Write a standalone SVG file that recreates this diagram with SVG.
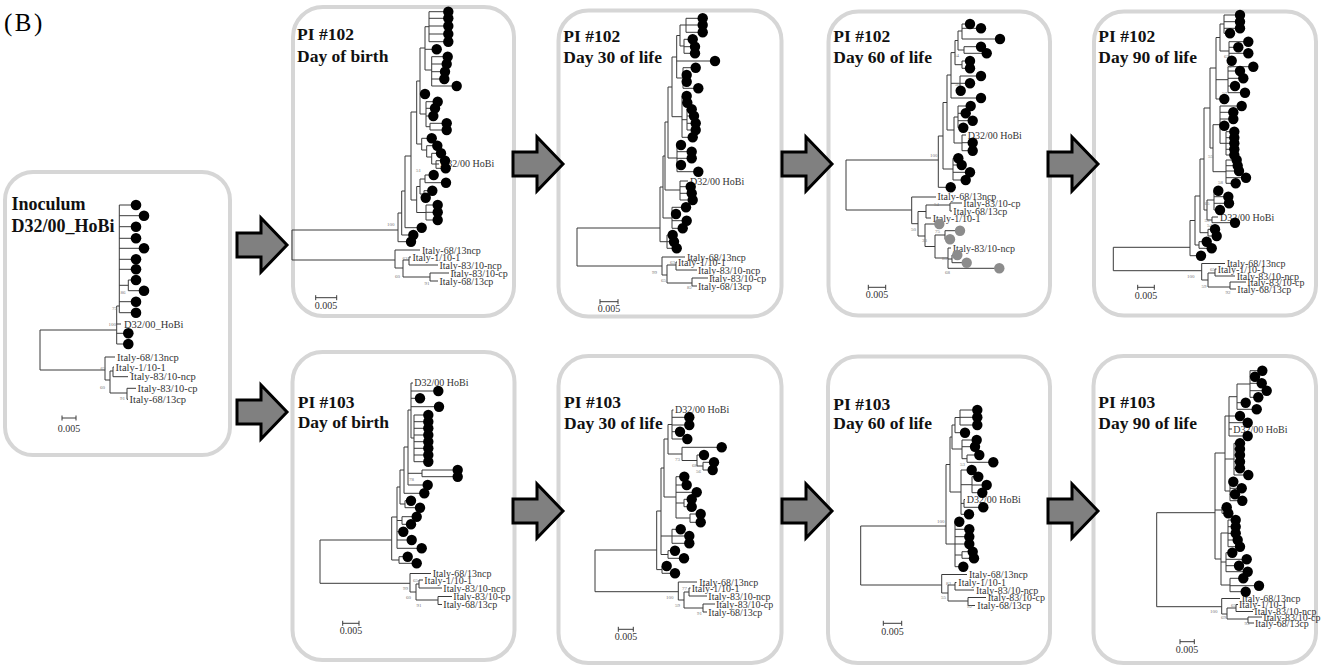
<svg xmlns="http://www.w3.org/2000/svg" xmlns:xlink="http://www.w3.org/1999/xlink" width="1322" height="668" viewBox="0 0 1322 668">
<style>
.panel{fill:#fff;stroke:#d6d6d6;stroke-width:4}
.arrow{fill:#808080;stroke:#000;stroke-width:3;stroke-linejoin:miter}
.tree{fill:none;stroke:#3a3a3a;stroke-width:1}
.d{fill:#000}
.g{fill:#8c8c8c}
.t{font-family:"Liberation Serif",serif;font-weight:bold;font-size:17.5px;fill:#111}
.l{font-family:"Liberation Serif",serif;font-size:10px;fill:#333}
.li{font-family:"Liberation Serif",serif;font-size:10.5px;fill:#333}
.s{font-family:"Liberation Serif",serif;font-size:5px;fill:#777}
.m{text-anchor:middle}
</style>
<defs>
<path id="arr" d="M-50,-12H-26V-27L0,0L-26,27V12H-50Z"/>
</defs>
<rect width="1322" height="668" fill="#fff"/>
<text x="4" y="31" font-family="Liberation Serif, serif" font-size="25" letter-spacing="2.5" fill="#000">(B)</text>

<g id="inoculum">
<rect class="panel" x="5" y="172" width="225" height="283" rx="28"/>
<text class="t" x="11.5" y="210" style="font-size:18px">Inoculum</text>
<text class="t" x="11.5" y="232" style="font-size:18px">D32/00_HoBi</text>
<path class="tree" d="M119.3,205V312.7M119.3,205H136M119.3,215.7H144M119.3,226.7H136M119.3,238.3H136M119.3,248.3H144M119.3,259.3H136M119.3,269.3H136M119.3,285.3H128.3M128.3,280V290.7M128.3,280H136M128.3,290.7H144M119.3,301.7H136M119.3,312.7H136M116.7,306V344M116.7,306H119.3M116.7,324H121M116.7,333.3H128.3M116.7,344H128.3M40,330H116.7M40,330V370M40,370H105M105,357V380M105,357H115M105,380H110M110,371V393M110,371H113M113,367V376.7M113,367H114M113,376.7H128M110,393H127M127,388.3V399.3M127,388.3H136M127,399.3H128M62,418H76M62,415.5V420.5M76,415.5V420.5"/>
<text class="li" x="124" y="327.5">D32/00_HoBi</text>
<text class="li" x="117" y="360.5">Italy-68/13ncp</text>
<text class="li" x="115.5" y="370.5">Italy-1/10-1</text>
<text class="li" x="130.5" y="380">Italy-83/10-ncp</text>
<text class="li" x="137.5" y="391.5">Italy-83/10-cp</text>
<text class="li" x="129.5" y="402.5">Italy-68/13cp</text>
<text class="s" x="120.5" y="294">86</text>
<text class="s" x="112" y="310">75</text>
<text class="s" x="108.5" y="325.5">100</text>
<text class="s" x="100.5" y="369.5">65</text>
<text class="s" x="100" y="388.5">60</text>
<text class="s" x="120" y="400">91</text>
<text class="l m" x="69" y="432">0.005</text>
<circle class="d" cx="136" cy="205" r="5.3"/><circle class="d" cx="144" cy="215.7" r="5.3"/><circle class="d" cx="136" cy="226.7" r="5.3"/><circle class="d" cx="136" cy="238.3" r="5.3"/><circle class="d" cx="144" cy="248.3" r="5.3"/><circle class="d" cx="136" cy="259.3" r="5.3"/><circle class="d" cx="136" cy="269.3" r="5.3"/><circle class="d" cx="136" cy="280" r="5.3"/><circle class="d" cx="144" cy="290.7" r="5.3"/><circle class="d" cx="136" cy="301.7" r="5.3"/><circle class="d" cx="136" cy="312.7" r="5.3"/><circle class="d" cx="128.3" cy="333.3" r="5.3"/><circle class="d" cx="128.3" cy="344" r="5.3"/>
</g>

<g id="pi102-birth">
<rect class="panel" x="293" y="7" width="221" height="309" rx="30"/>
<text class="t" x="297" y="40">PI #102</text>
<text class="t" x="297" y="62">Day of birth</text>
<path class="tree" d="M292,230H398M292,230V260M292,260H395M398,213V241.7M398,241.7H411M398,213H401.7M401.7,191V235M401.7,235H413.3M401.7,191H405M405,156V227.7M405,227.7H421.7M405,156H411M411,112V200M411,200H416.7M411,112H416.7M416.7,81V144M416.7,144H421.7M416.7,81H420M420,48V114M420,48H425M420,94H425M420,114H426M425,26.7V70M425,26.7H429M425,49.3H436.7M425,70H431.7M429,11.7V41.7M429,11.7H448.3M429,18.3H448.3M429,26H448.3M429,34H448.3M429,41.7H448.3M431.7,56.7V86M431.7,56.7H447.7M431.7,64H446.7M431.7,71.7H445M431.7,79H444.3M431.7,86H456.7M426,101.7V126.7M426,101.7H437.7M426,108.3H435M426,116H433.3M426,126.7H430M430,123.3V130M430,123.3H446.7M430,130H446.7M421.7,138.3V150M421.7,138.3H431.7M421.7,150H426.7M426.7,145.7V157M426.7,145.7H437.3M426.7,157H431.7M431.7,153.3V164M431.7,153.3H441M431.7,164H436M436,160.7V168.3M436,160.7H445M436,164H439M436,168.3H445.7M416.7,186.5V212.5M416.7,186.5H420M420,179V194M420,179H425M425,175V182.7M425,175H433.7M425,182.7H446M420,194H424M424,190.7V197.7M424,190.7H432.3M424,197.7H425.7M416.7,212.5H426M426,205V220M426,205H437.7M426,212.3H437.7M426,220H437.7M395,250V268M395,250H420M395,268H403M403,260V277M403,260H409M409,257V265M409,257H411M409,265H438M403,277H430M430,273V281M430,273H449M430,281H438M315.7,297.7H336.7M315.7,295.2V300.2M336.7,295.2V300.2"/>
<text class="l" x="440" y="167">D32/00 HoBi</text>
<text class="l" x="422" y="253.5">Italy-68/13ncp</text>
<text class="l" x="412.5" y="260.5">Italy-1/10-1</text>
<text class="l" x="439.5" y="268.5">Italy-83/10-ncp</text>
<text class="l" x="450.5" y="276.5">Italy-83/10-cp</text>
<text class="l" x="439.5" y="284.5">Italy-68/13cp</text>
<text class="s" x="387" y="226">100</text>
<text class="s" x="416" y="172">51</text>
<text class="s" x="402.5" y="259.5">63</text>
<text class="s" x="395" y="278">60</text>
<text class="s" x="424.5" y="284.5">91</text>
<text class="l m" x="326" y="308.5">0.005</text>
<circle class="d" cx="448.3" cy="11.7" r="5.2"/><circle class="d" cx="448.3" cy="18.3" r="5.2"/><circle class="d" cx="448.3" cy="26" r="5.2"/><circle class="d" cx="448.3" cy="34" r="5.2"/><circle class="d" cx="448.3" cy="41.7" r="5.2"/><circle class="d" cx="436.7" cy="49.3" r="5.2"/><circle class="d" cx="447.7" cy="56.7" r="5.2"/><circle class="d" cx="446.7" cy="64" r="5.2"/><circle class="d" cx="445" cy="71.7" r="5.2"/><circle class="d" cx="444.3" cy="79" r="5.2"/><circle class="d" cx="456.7" cy="86" r="5.2"/><circle class="d" cx="425" cy="94" r="5.2"/><circle class="d" cx="437.7" cy="101.7" r="5.2"/><circle class="d" cx="435" cy="108.3" r="5.2"/><circle class="d" cx="433.3" cy="116" r="5.2"/><circle class="d" cx="446.7" cy="123.3" r="5.2"/><circle class="d" cx="446.7" cy="130" r="5.2"/><circle class="d" cx="431.7" cy="138.3" r="5.2"/><circle class="d" cx="437.3" cy="145.7" r="5.2"/><circle class="d" cx="441" cy="153.3" r="5.2"/><circle class="d" cx="445" cy="160.7" r="5.2"/><circle class="d" cx="445.7" cy="168.3" r="5.2"/><circle class="d" cx="433.7" cy="175" r="5.2"/><circle class="d" cx="446" cy="182.7" r="5.2"/><circle class="d" cx="432.3" cy="190.7" r="5.2"/><circle class="d" cx="425.7" cy="197.7" r="5.2"/><circle class="d" cx="437.7" cy="205" r="5.2"/><circle class="d" cx="437.7" cy="212.3" r="5.2"/><circle class="d" cx="437.7" cy="220" r="5.2"/><circle class="d" cx="421.7" cy="227.7" r="5.2"/><circle class="d" cx="413.3" cy="235" r="5.2"/><circle class="d" cx="411" cy="241.7" r="5.2"/>
</g>

<g id="pi102-day30">
<rect class="panel" x="558.5" y="10.5" width="223" height="306" rx="30"/>
<text class="t" x="563.3" y="41.5">PI #102</text>
<text class="t" x="563.3" y="62.5">Day 30 of life</text>
<path class="tree" d="M577,228H660M577,228V266M577,266H662M660,187V241.7M660,187H663M660,241.7H667M667,235V248.3M667,235H672.7M667,241.7H674M667,248.3H676.7M663,156V218M663,156H665M663,218H672M672,207.3V228.3M672,207.3H686M672,214H676M672,220.7H686.7M672,228.3H682.7M665,122V190M665,122H668M665,190H680M680,181V200M680,181H688M680,186.7H690.7M680,193.3H691.7M680,200H692.7M668,87V158M668,87H672M668,158H677M677,145V171.7M677,145H681M677,151.7H691.7M677,158.3H691.7M677,165H681M677,171.7H698.3M672,57V116.7M672,57H676.7M672,116.7H682M682,96V137.3M682,96H686.7M682,102.7H687.3M682,137.3H692.7M682,119.7H687M687,109.3V130M687,109.3H691.7M687,116H694M687,123.3H695.7M687,130H695.7M676.7,35.5V78M676.7,35.5H680M676.7,61H715M676.7,78H683M680,25V46M680,25H686M680,46H684M686,18.3V32.3M686,18.3H702.7M686,25H702.7M686,32.3H702.7M684,39.3V53.3M684,39.3H692.7M684,46.7H695M684,53.3H695M683,67.7V88.3M683,67.7H695.7M683,75H686.7M683,81.7H686.7M683,88.3H698.3M662,257V275M662,257H685M662,275H667M667,265V283M667,265H676M676,262V270M676,262H677M676,270H697M667,283H692M692,278V286M692,278H708M692,286H697M600,301.7H618M600,299.2V304.2M618,299.2V304.2"/>
<text class="l" x="690" y="184.5">D32/00 HoBi</text>
<text class="l" x="687" y="260.5">Italy-68/13ncp</text>
<text class="l" x="678" y="265.5">Italy-1/10-1</text>
<text class="l" x="698" y="273.5">Italy-83/10-ncp</text>
<text class="l" x="709" y="281.5">Italy-83/10-cp</text>
<text class="l" x="698" y="289.5">Italy-68/13cp</text>
<text class="s" x="670" y="263.5">63</text>
<text class="s" x="652" y="274">99</text>
<text class="s" x="661" y="282">65</text>
<text class="s" x="687" y="289">82</text>
<text class="l m" x="609" y="312">0.005</text>
<circle class="d" cx="702.7" cy="18.3" r="5.2"/><circle class="d" cx="702.7" cy="25" r="5.2"/><circle class="d" cx="702.7" cy="32.3" r="5.2"/><circle class="d" cx="692.7" cy="39.3" r="5.2"/><circle class="d" cx="695" cy="46.7" r="5.2"/><circle class="d" cx="695" cy="53.3" r="5.2"/><circle class="d" cx="715" cy="61" r="5.2"/><circle class="d" cx="695.7" cy="67.7" r="5.2"/><circle class="d" cx="686.7" cy="75" r="5.2"/><circle class="d" cx="686.7" cy="81.7" r="5.2"/><circle class="d" cx="698.3" cy="88.3" r="5.2"/><circle class="d" cx="686.7" cy="96" r="5.2"/><circle class="d" cx="687.3" cy="102.7" r="5.2"/><circle class="d" cx="691.7" cy="109.3" r="5.2"/><circle class="d" cx="694" cy="116" r="5.2"/><circle class="d" cx="695.7" cy="123.3" r="5.2"/><circle class="d" cx="695.7" cy="130" r="5.2"/><circle class="d" cx="692.7" cy="137.3" r="5.2"/><circle class="d" cx="681" cy="145" r="5.2"/><circle class="d" cx="691.7" cy="151.7" r="5.2"/><circle class="d" cx="691.7" cy="158.3" r="5.2"/><circle class="d" cx="681" cy="165" r="5.2"/><circle class="d" cx="698.3" cy="171.7" r="5.2"/><circle class="d" cx="690.7" cy="186.7" r="5.2"/><circle class="d" cx="691.7" cy="193.3" r="5.2"/><circle class="d" cx="692.7" cy="200" r="5.2"/><circle class="d" cx="686" cy="207.3" r="5.2"/><circle class="d" cx="676" cy="214" r="5.2"/><circle class="d" cx="686.7" cy="220.7" r="5.2"/><circle class="d" cx="682.7" cy="228.3" r="5.2"/><circle class="d" cx="672.7" cy="235" r="5.2"/><circle class="d" cx="674" cy="241.7" r="5.2"/><circle class="d" cx="676.7" cy="248.3" r="5.2"/>
</g>

<g id="pi102-day60">
<rect class="panel" x="828.5" y="11.5" width="221.5" height="304" rx="30"/>
<text class="t" x="833.3" y="41.5">PI #102</text>
<text class="t" x="833.3" y="62.5">Day 60 of life</text>
<path class="tree" d="M846,160H938.3M846,160V210M846,210H911.7M938.3,136V187.3M938.3,136H943M938.3,187.3H950.7M943,102.5V169M943,102.5H947M943,169H953M953,158.3V180M953,158.3H958.3M953,165H961.7M953,172.3H970M953,180H965.7M947,75V130M947,75H951M947,130H954M954,117V143M954,117H958M954,143H962M962,135V150.7M962,135H966M962,142.7H972.7M962,150.7H972.7M958,106V127.7M958,106H970.7M958,113.3H965.7M958,120.7H972.7M958,127.7H963.3M951,52.6V98M951,52.6H955M951,83.3H960M951,98H981M960,76V90.7M960,76H981M960,83.3H970M960,90.7H960.7M955,40.5V64.7M955,40.5H958M955,64.7H962M962,61V68.3M962,61H970M962,68.3H970M958,31V50M958,31H962M958,50H964M962,24V39M962,24H970M962,28.3H981M962,39H1000M964,46.7V53.3M964,46.7H981M964,53.3H986.7M911.7,197V223.7M911.7,197H936M911.7,223.7H918M918,211.5V236M918,211.5H926M918,236H925M926,205V218M926,205H950M926,218H931M950,203V211M950,203H962M950,211H952M925,224V246.5M925,224H939.3M925,246.5H935M935,235V258M935,235H945M935,258H948M945,230.7V239.3M945,230.7H960M945,239.3H950M948,248V268.3M948,248H951M948,259H952M948,268.3H999.3M952,255V262.7M952,255H957.3M952,262.7H966.7M868.3,287.3H885.7M868.3,284.8V289.8M885.7,284.8V289.8"/>
<text class="l" x="967.7" y="139">D32/00 HoBi</text>
<text class="l" x="937.5" y="200">Italy-68/13ncp</text>
<text class="l" x="963.3" y="207">Italy-83/10-cp</text>
<text class="l" x="953.3" y="214.5">Italy-68/13cp</text>
<text class="l" x="932.7" y="221.5">Italy-1/10-1</text>
<text class="l" x="952.7" y="251.5">Italy-83/10-ncp</text>
<text class="s" x="930" y="157">100</text>
<text class="s" x="954" y="57">54</text>
<text class="s" x="955" y="86">50</text>
<text class="s" x="934" y="206">54</text>
<text class="s" x="911" y="231">50</text>
<text class="s" x="935" y="233">75</text>
<text class="s" x="922" y="242">33</text>
<text class="s" x="942" y="259.5">80</text>
<text class="s" x="945" y="273.5">68</text>
<text class="l m" x="877" y="298">0.005</text>
<circle class="d" cx="970" cy="24" r="5.2"/><circle class="d" cx="981" cy="28.3" r="5.2"/><circle class="d" cx="1000" cy="39" r="5.2"/><circle class="d" cx="981" cy="46.7" r="5.2"/><circle class="d" cx="986.7" cy="53.3" r="5.2"/><circle class="d" cx="970" cy="61" r="5.2"/><circle class="d" cx="970" cy="68.3" r="5.2"/><circle class="d" cx="981" cy="76" r="5.2"/><circle class="d" cx="970" cy="83.3" r="5.2"/><circle class="d" cx="960.7" cy="90.7" r="5.2"/><circle class="d" cx="981" cy="98" r="5.2"/><circle class="d" cx="970.7" cy="106" r="5.2"/><circle class="d" cx="965.7" cy="113.3" r="5.2"/><circle class="d" cx="972.7" cy="120.7" r="5.2"/><circle class="d" cx="963.3" cy="127.7" r="5.2"/><circle class="d" cx="972.7" cy="142.7" r="5.2"/><circle class="d" cx="972.7" cy="150.7" r="5.2"/><circle class="d" cx="958.3" cy="158.3" r="5.2"/><circle class="d" cx="961.7" cy="165" r="5.2"/><circle class="d" cx="970" cy="172.3" r="5.2"/><circle class="d" cx="965.7" cy="180" r="5.2"/><circle class="d" cx="950.7" cy="187.3" r="5.2"/>
<circle class="g" cx="939.3" cy="224" r="5.2"/><circle class="g" cx="960" cy="230.7" r="5.2"/><circle class="g" cx="950" cy="239.3" r="5.2"/><circle class="g" cx="957.3" cy="255" r="5.2"/><circle class="g" cx="966.7" cy="262.7" r="5.2"/><circle class="g" cx="999.3" cy="268.3" r="5.2"/>
</g>

<g id="pi102-day90">
<rect class="panel" x="1094" y="11.5" width="222" height="304" rx="30"/>
<text class="t" x="1098.3" y="42">PI #102</text>
<text class="t" x="1098.3" y="62.5">Day 90 of life</text>
<path class="tree" d="M1113.3,247.3H1190M1113.3,247.3V270.7M1113.3,270.7H1201.7M1190,220.5V255.7M1190,220.5H1195M1190,255.7H1201M1195,196V245M1195,196H1200M1195,245H1199M1199,241.7V248.3M1199,241.7H1206.7M1199,248.3H1211.7M1200,159V232.7M1200,159H1204M1200,232.7H1208M1208,229.3V236M1208,229.3H1215M1208,236H1216.7M1204,108V210M1204,108H1210M1204,210H1207M1207,200V220M1207,200H1214M1207,220H1212M1214,190.7V210M1214,190.7H1218.3M1214,196.7H1228.3M1214,203.3H1229M1214,210H1220M1212,217V222.7M1212,217H1218M1212,222.7H1235M1210,68V148M1210,68H1216M1210,148H1213M1213,124.7V171.7M1213,124.7H1220M1213,171.7H1226M1226,160V183.3M1226,160H1236.7M1226,165.7H1237.7M1226,171H1239M1226,177.7H1246M1226,183.3H1235.7M1220,106V143.3M1220,106H1241.7M1220,112.3H1233.3M1220,119H1233.3M1220,125.7H1224.3M1220,143.3H1226M1226,131.7V155M1226,131.7H1234.3M1226,137.7H1234.3M1226,143.3H1234.3M1226,149.3H1234.3M1226,155H1234.3M1216,37.5V99M1216,37.5H1220M1216,79.7H1228M1216,99H1224.3M1220,24V51M1220,24H1224M1220,51H1229M1224,15V33.3M1224,15H1240M1224,21.7H1240M1224,28.3H1240M1224,33.3H1230M1229,41.7V60.7M1229,41.7H1248.3M1229,47.3H1238.3M1229,53.3H1248.3M1229,60.7H1231.7M1228,66.7V92.7M1228,66.7H1253.3M1228,71H1240M1228,78.3H1243.3M1228,86H1235M1228,92.7H1245M1201.7,263.5V280M1201.7,263.5H1225M1201.7,280H1208M1208,273V287M1208,273H1215M1215,269V276M1215,269H1216.5M1215,276H1235M1208,287H1230M1230,282V289M1230,282H1246M1230,289H1236M1137.7,287.3H1154.3M1137.7,284.8V289.8M1154.3,284.8V289.8"/>
<text class="l" x="1220" y="220.5">D32/00 HoBi</text>
<text class="l" x="1226.7" y="267">Italy-68/13ncp</text>
<text class="l" x="1217.7" y="272.5">Italy-1/10-1</text>
<text class="l" x="1236.7" y="279.5">Italy-83/10-ncp</text>
<text class="l" x="1247.3" y="285.5">Italy-83/10-cp</text>
<text class="l" x="1237.3" y="292.5">Italy-68/13cp</text>
<text class="s" x="1224" y="58">63</text>
<text class="s" x="1227" y="68">52</text>
<text class="s" x="1222" y="95">57</text>
<text class="s" x="1208" y="158">55</text>
<text class="s" x="1218" y="184">58</text>
<text class="s" x="1204.5" y="205">65</text>
<text class="s" x="1204.5" y="222">53</text>
<text class="s" x="1207" y="227">54</text>
<text class="s" x="1187" y="278">100</text>
<text class="s" x="1210" y="271">65</text>
<text class="s" x="1201.5" y="288">59</text>
<text class="s" x="1225.5" y="293.5">92</text>
<text class="l m" x="1146" y="298.5">0.005</text>
<circle class="d" cx="1240" cy="15" r="5.2"/><circle class="d" cx="1240" cy="21.7" r="5.2"/><circle class="d" cx="1240" cy="28.3" r="5.2"/><circle class="d" cx="1230" cy="33.3" r="5.2"/><circle class="d" cx="1248.3" cy="41.7" r="5.2"/><circle class="d" cx="1238.3" cy="47.3" r="5.2"/><circle class="d" cx="1248.3" cy="53.3" r="5.2"/><circle class="d" cx="1231.7" cy="60.7" r="5.2"/><circle class="d" cx="1253.3" cy="66.7" r="5.2"/><circle class="d" cx="1240" cy="71" r="5.2"/><circle class="d" cx="1243.3" cy="78.3" r="5.2"/><circle class="d" cx="1235" cy="86" r="5.2"/><circle class="d" cx="1245" cy="92.7" r="5.2"/><circle class="d" cx="1224.3" cy="99" r="5.2"/><circle class="d" cx="1241.7" cy="106" r="5.2"/><circle class="d" cx="1233.3" cy="112.3" r="5.2"/><circle class="d" cx="1233.3" cy="119" r="5.2"/><circle class="d" cx="1224.3" cy="125.7" r="5.2"/><circle class="d" cx="1234.3" cy="131.7" r="5.2"/><circle class="d" cx="1234.3" cy="137.7" r="5.2"/><circle class="d" cx="1234.3" cy="143.3" r="5.2"/><circle class="d" cx="1234.3" cy="149.3" r="5.2"/><circle class="d" cx="1234.3" cy="155" r="5.2"/><circle class="d" cx="1236.7" cy="160" r="5.2"/><circle class="d" cx="1237.7" cy="165.7" r="5.2"/><circle class="d" cx="1239" cy="171" r="5.2"/><circle class="d" cx="1246" cy="177.7" r="5.2"/><circle class="d" cx="1235.7" cy="183.3" r="5.2"/><circle class="d" cx="1218.3" cy="190.7" r="5.2"/><circle class="d" cx="1228.3" cy="196.7" r="5.2"/><circle class="d" cx="1229" cy="203.3" r="5.2"/><circle class="d" cx="1220" cy="210" r="5.2"/><circle class="d" cx="1235" cy="222.7" r="5.2"/><circle class="d" cx="1215" cy="229.3" r="5.2"/><circle class="d" cx="1216.7" cy="236" r="5.2"/><circle class="d" cx="1206.7" cy="241.7" r="5.2"/><circle class="d" cx="1211.7" cy="248.3" r="5.2"/><circle class="d" cx="1201" cy="255.7" r="5.2"/>
</g>

<g id="pi103-birth">
<rect class="panel" x="292.5" y="352" width="222" height="308" rx="30"/>
<text class="t" x="297.7" y="408">PI #103</text>
<text class="t" x="297.7" y="428">Day of birth</text>
<path class="tree" d="M320,540H391.7M320,540V583.3M320,583.3H410M391.7,517V560M391.7,517H397M391.7,560H399M399,556.7V563.3M399,556.7H407.7M399,563.3H416.7M397,487V548.3M397,487H400M397,520.5H402M397,531.7H403.3M397,540H411.7M397,548.3H421.7M402,516.7V524.3M402,516.7H416.7M402,524.3H411M400,470V504M400,470H404M400,504H405M405,500.7V507.7M405,500.7H411M405,507.7H420M404,447V493.3M404,447H408M404,493.3H424.3M408,410V485M408,410H411M408,473.3H422M408,485H427.7M422,470V476.7M422,470H457.7M422,476.7H457.7M411,383V438M411,383H413M411,391H438.3M411,398.3H420M411,406.7H439M411,438H414M414,415V461.7M414,415H428.3M414,421.7H428.3M414,428.3H428.3M414,435H428.3M414,441.7H428.3M414,448.3H428.3M414,455H428.3M414,461.7H428.3M410,573.5V592M410,573.5H431M410,592H416M416,584V600M416,584H419M419,580V588M419,580H423M419,588H442M416,600H438M438,596.5V604.5M438,596.5H452M438,604.5H442M342.7,623.3H359M342.7,620.8V625.8M359,620.8V625.8"/>
<text class="l" x="414.3" y="386">D32/00 HoBi</text>
<text class="l" x="432.7" y="577">Italy-68/13ncp</text>
<text class="l" x="424.3" y="583.5">Italy-1/10-1</text>
<text class="l" x="443.3" y="591.5">Italy-83/10-ncp</text>
<text class="l" x="453.3" y="600">Italy-83/10-cp</text>
<text class="l" x="443.3" y="608">Italy-68/13cp</text>
<text class="s" x="409" y="481">78</text>
<text class="s" x="413" y="581.5">65</text>
<text class="s" x="403" y="589.5">99</text>
<text class="s" x="406" y="598.5">60</text>
<text class="s" x="416.5" y="607">91</text>
<text class="l m" x="351" y="633.5">0.005</text>
<circle class="d" cx="438.3" cy="391" r="5.2"/><circle class="d" cx="420" cy="398.3" r="5.2"/><circle class="d" cx="439" cy="406.7" r="5.2"/><circle class="d" cx="428.3" cy="415" r="5.2"/><circle class="d" cx="428.3" cy="421.7" r="5.2"/><circle class="d" cx="428.3" cy="428.3" r="5.2"/><circle class="d" cx="428.3" cy="435" r="5.2"/><circle class="d" cx="428.3" cy="441.7" r="5.2"/><circle class="d" cx="428.3" cy="448.3" r="5.2"/><circle class="d" cx="428.3" cy="455" r="5.2"/><circle class="d" cx="428.3" cy="461.7" r="5.2"/><circle class="d" cx="457.7" cy="470" r="5.2"/><circle class="d" cx="457.7" cy="476.7" r="5.2"/><circle class="d" cx="427.7" cy="485" r="5.2"/><circle class="d" cx="424.3" cy="493.3" r="5.2"/><circle class="d" cx="411" cy="500.7" r="5.2"/><circle class="d" cx="420" cy="507.7" r="5.2"/><circle class="d" cx="416.7" cy="516.7" r="5.2"/><circle class="d" cx="411" cy="524.3" r="5.2"/><circle class="d" cx="403.3" cy="531.7" r="5.2"/><circle class="d" cx="411.7" cy="540" r="5.2"/><circle class="d" cx="421.7" cy="548.3" r="5.2"/><circle class="d" cx="407.7" cy="556.7" r="5.2"/><circle class="d" cx="416.7" cy="563.3" r="5.2"/>
</g>

<g id="pi103-day30">
<rect class="panel" x="558.5" y="356" width="223" height="307" rx="30"/>
<text class="t" x="564" y="408.3">PI #103</text>
<text class="t" x="564" y="428.5">Day 30 of life</text>
<path class="tree" d="M595,550H656.7M595,550V591.7M595,591.7H678.3M656.7,511V569.6M656.7,511H661M656.7,569.6H662M662,566V573.3M662,566H666.7M662,573.3H675M661,468V554.5M661,468H664M661,536H672M661,554.5H668M668,550.7V558.3M668,550.7H675M668,558.3H684M672,529.3V543.3M672,529.3H680.7M672,536H689.3M672,543.3H689.3M664,439V497M664,439H668M664,497H676M676,476.7V518M676,476.7H684.3M676,485H686.7M676,492.3H696.7M676,503H684M676,518H690M684,499.3V506.7M684,499.3H691.7M684,506.7H691.7M690,514V522.3M690,514H700.7M690,522.3H700.7M668,424.5V454M668,424.5H672M668,454H682M672,410V439M672,410H673.5M672,417.3H689.3M672,425H689.3M672,431.7H680M672,439H687.3M682,447.3V460.5M682,447.3H721.7M682,460.5H697M697,455V466M697,455H704M697,466H703M703,462.3V470M703,462.3H714M703,470H712.7M678.3,582V600M678.3,582H697M678.3,600H684M684,592V608M684,592H689M689,588V596M689,588H690.5M689,596H707M684,608H703M703,604V612M703,604H715M703,612H707M618.3,629.3H633.3M618.3,626.8V631.8M633.3,626.8V631.8"/>
<text class="l" x="675" y="413.3">D32/00 HoBi</text>
<text class="l" x="699.3" y="585.5">Italy-68/13ncp</text>
<text class="l" x="691.7" y="591.5">Italy-1/10-1</text>
<text class="l" x="708.3" y="599.5">Italy-83/10-ncp</text>
<text class="l" x="716" y="607.5">Italy-83/10-cp</text>
<text class="l" x="708.3" y="615.5">Italy-68/13cp</text>
<text class="s" x="675" y="461">73</text>
<text class="s" x="692" y="467">68</text>
<text class="s" x="696" y="473">56</text>
<text class="s" x="682" y="589.5">77</text>
<text class="s" x="666" y="598.5">100</text>
<text class="s" x="675" y="606.5">59</text>
<text class="s" x="697" y="614.5">91</text>
<text class="l m" x="626" y="639.5">0.005</text>
<circle class="d" cx="689.3" cy="417.3" r="5.2"/><circle class="d" cx="689.3" cy="425" r="5.2"/><circle class="d" cx="680" cy="431.7" r="5.2"/><circle class="d" cx="687.3" cy="439" r="5.2"/><circle class="d" cx="721.7" cy="447.3" r="5.2"/><circle class="d" cx="704" cy="455" r="5.2"/><circle class="d" cx="714" cy="462.3" r="5.2"/><circle class="d" cx="712.7" cy="470" r="5.2"/><circle class="d" cx="684.3" cy="476.7" r="5.2"/><circle class="d" cx="686.7" cy="485" r="5.2"/><circle class="d" cx="696.7" cy="492.3" r="5.2"/><circle class="d" cx="691.7" cy="499.3" r="5.2"/><circle class="d" cx="691.7" cy="506.7" r="5.2"/><circle class="d" cx="700.7" cy="514" r="5.2"/><circle class="d" cx="700.7" cy="522.3" r="5.2"/><circle class="d" cx="680.7" cy="529.3" r="5.2"/><circle class="d" cx="689.3" cy="536" r="5.2"/><circle class="d" cx="689.3" cy="543.3" r="5.2"/><circle class="d" cx="675" cy="550.7" r="5.2"/><circle class="d" cx="684" cy="558.3" r="5.2"/><circle class="d" cx="666.7" cy="566" r="5.2"/><circle class="d" cx="675" cy="573.3" r="5.2"/>
</g>

<g id="pi103-day60">
<rect class="panel" x="828" y="356.5" width="222" height="306.5" rx="30"/>
<text class="t" x="833.3" y="410">PI #103</text>
<text class="t" x="833.3" y="429.3">Day 60 of life</text>
<path class="tree" d="M860.7,526H946M860.7,526V585M860.7,585H941.7M946,464.5V544M946,464.5H950M946,544H955M955,521.7V566.7M955,521.7H959.3M955,529.3H969.3M955,536.7H969.3M955,544H969.3M955,555H962M955,566.7H963.3M962,551.7V558.3M962,551.7H972.7M962,558.3H974M950,437V492M950,437H952M950,492H961M961,470V514.3M961,470H971.7M961,484.7H972M961,503.4H964M961,514.3H969M972,476.7V492.7M972,476.7H978.3M972,485H986.7M972,492.7H982.3M964,499.5V507.3M964,499.5H965M964,507.3H983.3M952,425V449M952,425H955M952,449H962M955,417.5V432.7M955,417.5H960M955,432.7H965M960,410V425M960,410H977.3M960,417.3H977.3M960,425H977.3M962,440V458.7M962,440H976.7M962,446.7H975M962,458.7H967M967,455V462.3M967,455H979.3M967,462.3H993.3M941.7,574.5V593M941.7,574.5H967M941.7,593H948M948,585V601M948,585H955M955,582.5V590M955,582.5H956.5M955,590H974M948,601H968M968,597.5V605.5M968,597.5H986M968,605.5H975M883.3,623.3H901.7M883.3,620.8V625.8M901.7,620.8V625.8"/>
<text class="l" x="966.7" y="503.3">D32/00 HoBi</text>
<text class="l" x="969" y="578">Italy-68/13ncp</text>
<text class="l" x="958.3" y="586">Italy-1/10-1</text>
<text class="l" x="976" y="593.5">Italy-83/10-ncp</text>
<text class="l" x="987.7" y="601">Italy-83/10-cp</text>
<text class="l" x="977.3" y="609">Italy-68/13cp</text>
<text class="s" x="937" y="523">100</text>
<text class="s" x="960" y="466">53</text>
<text class="s" x="946" y="584.5">83</text>
<text class="s" x="941" y="599">55</text>
<text class="s" x="967" y="608">92</text>
<text class="l m" x="892.5" y="635">0.005</text>
<circle class="d" cx="977.3" cy="410" r="5.2"/><circle class="d" cx="977.3" cy="417.3" r="5.2"/><circle class="d" cx="977.3" cy="425" r="5.2"/><circle class="d" cx="965" cy="432.7" r="5.2"/><circle class="d" cx="976.7" cy="440" r="5.2"/><circle class="d" cx="975" cy="446.7" r="5.2"/><circle class="d" cx="979.3" cy="455" r="5.2"/><circle class="d" cx="993.3" cy="462.3" r="5.2"/><circle class="d" cx="971.7" cy="470" r="5.2"/><circle class="d" cx="978.3" cy="476.7" r="5.2"/><circle class="d" cx="986.7" cy="485" r="5.2"/><circle class="d" cx="982.3" cy="492.7" r="5.2"/><circle class="d" cx="983.3" cy="507.3" r="5.2"/><circle class="d" cx="969" cy="514.3" r="5.2"/><circle class="d" cx="959.3" cy="521.7" r="5.2"/><circle class="d" cx="969.3" cy="529.3" r="5.2"/><circle class="d" cx="969.3" cy="536.7" r="5.2"/><circle class="d" cx="969.3" cy="544" r="5.2"/><circle class="d" cx="972.7" cy="551.7" r="5.2"/><circle class="d" cx="974" cy="558.3" r="5.2"/><circle class="d" cx="963.3" cy="566.7" r="5.2"/>
</g>

<g id="pi103-day90">
<rect class="panel" x="1093.5" y="356" width="222.5" height="307" rx="30"/>
<text class="t" x="1098.3" y="408.3">PI #103</text>
<text class="t" x="1098.3" y="429">Day 90 of life</text>
<path class="tree" d="M1156.7,512.7H1215M1156.7,512.7V606.7M1156.7,606.7H1221.7M1215,453V559M1215,453H1225M1215,510H1222M1215,559H1221M1222,507.3V513.3M1222,507.3H1226.7M1222,513.3H1228.3M1221,533V585M1221,533H1228M1221,562H1226M1221,585H1230M1228,520V546.7M1228,520H1235.7M1228,526.7H1235.7M1228,533.3H1235.7M1228,540H1237.7M1228,546.7H1240M1226,552.7V571.7M1226,552.7H1232.3M1226,559.3H1246.7M1226,565.7H1239M1226,571.7H1247.7M1230,578.3V591.7M1230,578.3H1243.3M1230,585.7H1259M1230,591.7H1245.7M1225,416V491M1225,416H1229M1225,459H1234M1225,491H1230M1230,481.7V500.7M1230,481.7H1233.3M1230,488.3H1241.7M1230,494.3H1235M1230,500.7H1242.3M1234,443.3V475M1234,443.3H1240M1234,449H1240M1234,455H1240M1234,461.7H1240M1234,468.3H1240M1234,475H1248.3M1229,396.7V436M1229,396.7H1237M1229,416H1240M1229,422.7H1247.7M1229,429H1232M1229,436H1247.7M1237,384V409.3M1237,384H1250M1237,402.7H1245.7M1237,409.3H1256.7M1250,370.7V397.3M1250,370.7H1262.3M1250,376.7H1255M1250,383.3H1261.7M1250,390.7H1266.7M1250,397.3H1258.3M1221.7,598.5V614M1221.7,598.5H1240M1221.7,614H1227M1227,608V619M1227,608H1236M1236,604.5V611.5M1236,604.5H1238M1236,611.5H1253M1227,619H1248M1248,617V623M1248,617H1262M1248,623H1254M1180,641.7H1194.3M1180,639.2V644.2M1194.3,639.2V644.2"/>
<text class="l" x="1233.3" y="432.7">D32/00 HoBi</text>
<text class="l" x="1241.7" y="602">Italy-68/13ncp</text>
<text class="l" x="1239" y="608">Italy-1/10-1</text>
<text class="l" x="1254.3" y="615">Italy-83/10-ncp</text>
<text class="l" x="1263.3" y="620.5">Italy-83/10-cp</text>
<text class="l" x="1255" y="626.7">Italy-68/13cp</text>
<text class="s" x="1231" y="606.5">65</text>
<text class="s" x="1210" y="613">100</text>
<text class="s" x="1221" y="618.5">69</text>
<text class="s" x="1244.5" y="625">93</text>
<text class="l m" x="1187" y="653">0.005</text>
<circle class="d" cx="1262.3" cy="370.7" r="5.2"/><circle class="d" cx="1255" cy="376.7" r="5.2"/><circle class="d" cx="1261.7" cy="383.3" r="5.2"/><circle class="d" cx="1266.7" cy="390.7" r="5.2"/><circle class="d" cx="1258.3" cy="397.3" r="5.2"/><circle class="d" cx="1245.7" cy="402.7" r="5.2"/><circle class="d" cx="1256.7" cy="409.3" r="5.2"/><circle class="d" cx="1240" cy="416" r="5.2"/><circle class="d" cx="1247.7" cy="422.7" r="5.2"/><circle class="d" cx="1247.7" cy="436" r="5.2"/><circle class="d" cx="1240" cy="443.3" r="5.2"/><circle class="d" cx="1240" cy="449" r="5.2"/><circle class="d" cx="1240" cy="455" r="5.2"/><circle class="d" cx="1240" cy="461.7" r="5.2"/><circle class="d" cx="1240" cy="468.3" r="5.2"/><circle class="d" cx="1248.3" cy="475" r="5.2"/><circle class="d" cx="1233.3" cy="481.7" r="5.2"/><circle class="d" cx="1241.7" cy="488.3" r="5.2"/><circle class="d" cx="1235" cy="494.3" r="5.2"/><circle class="d" cx="1242.3" cy="500.7" r="5.2"/><circle class="d" cx="1226.7" cy="507.3" r="5.2"/><circle class="d" cx="1228.3" cy="513.3" r="5.2"/><circle class="d" cx="1235.7" cy="520" r="5.2"/><circle class="d" cx="1235.7" cy="526.7" r="5.2"/><circle class="d" cx="1235.7" cy="533.3" r="5.2"/><circle class="d" cx="1237.7" cy="540" r="5.2"/><circle class="d" cx="1240" cy="546.7" r="5.2"/><circle class="d" cx="1232.3" cy="552.7" r="5.2"/><circle class="d" cx="1246.7" cy="559.3" r="5.2"/><circle class="d" cx="1239" cy="565.7" r="5.2"/><circle class="d" cx="1247.7" cy="571.7" r="5.2"/><circle class="d" cx="1243.3" cy="578.3" r="5.2"/><circle class="d" cx="1259" cy="585.7" r="5.2"/><circle class="d" cx="1245.7" cy="591.7" r="5.2"/>
</g>

<g id="connectors">
<use href="#arr" class="arrow" transform="translate(287,245)"/>
<use href="#arr" class="arrow" transform="translate(287,412)"/>
<use href="#arr" class="arrow" transform="translate(563,164)"/>
<use href="#arr" class="arrow" transform="translate(832,164)"/>
<use href="#arr" class="arrow" transform="translate(1098,164)"/>
<use href="#arr" class="arrow" transform="translate(563,511)"/>
<use href="#arr" class="arrow" transform="translate(832,511)"/>
<use href="#arr" class="arrow" transform="translate(1098,511)"/>
</g>
</svg>
